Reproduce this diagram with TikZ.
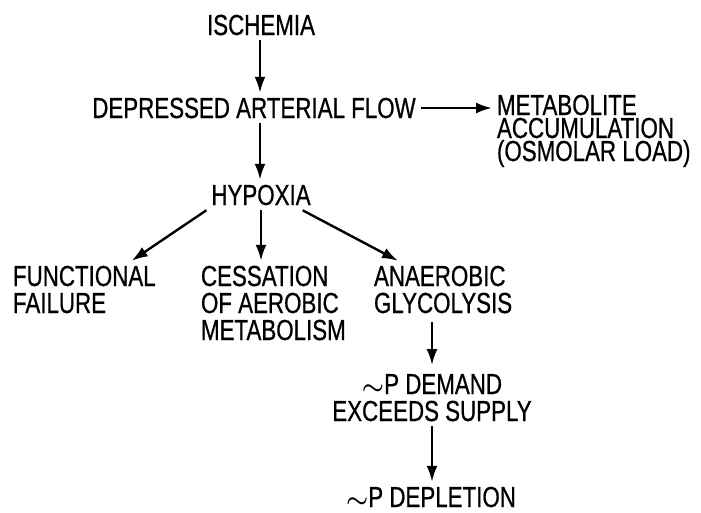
\documentclass[tikz,border=0pt]{standalone}
\usepackage{amssymb,amsmath}
\usepackage{fontspec}
\setmainfont[FakeStretch=0.77,FakeBold=0.6]{Liberation Sans}
\usepackage{tikz}
\usetikzlibrary{arrows.meta}

\begin{document}
\begin{tikzpicture}[x=1pt, y=-1pt,
        label/.style={inner sep=0pt, outer sep=5pt,
          font=\fontsize{29}{27}\selectfont},
        tight/.style={label, font=\fontsize{29}{23}\selectfont},
        every path/.style={line width=2.4pt},
        >={Latex[length=16pt,width=11pt]}]
        \useasboundingbox (0,0) rectangle (701,512);
        \node (isch) at (261,35) [label, anchor=base] {ISCHEMIA};
        \node (flow) at (254,118) [label, anchor=base] {DEPRESSED ARTERIAL FLOW};
        \node (metab) at (492,161) [tight, anchor=base west, align=left]
          {METABOLITE\\ACCUMULATION\\(OSMOLAR LOAD)};
        \node (hypox) at (261,205) [label, anchor=base] {HYPOXIA};
        \node (func) at (8,313) [label, anchor=base west, align=left]
          {FUNCTIONAL\\FAILURE};
        \node (cess) at (196,340) [label, anchor=base west, align=left]
          {CESSATION\\OF AEROBIC\\METABOLISM};
        \node (anaer) at (369,313) [label, anchor=base west, align=left]
          {ANAEROBIC\\GLYCOLYSIS};
        \node (demand) at (432,421) [label, anchor=base, align=center]
          {$\boldsymbol{\sim}$P DEMAND\\EXCEEDS SUPPLY};
        \node (deplet) at (431,507) [label, anchor=base] {$\boldsymbol{\sim}$P DEPLETION};
      \draw[->] ([xshift=-1pt]isch.south) -- ([xshift=-1pt]isch.south |- flow.north);
      \draw[->] (flow.east) -- (flow.east -| metab.west);
      \draw[->] ([xshift=6pt]flow.south) -- ([xshift=6pt]flow.south |- hypox.north);
      \draw[->] (hypox.south west) -- ([xshift=-29pt]func.north east);
      \draw[->] (hypox.south) -- (hypox.south |- cess.north);
      \draw[->] ([xshift=-13pt]hypox.south east) -- ([xshift=29pt]anaer.north west);
      \draw[->, shorten <=4pt, shorten >=4pt] (demand.north |- anaer.south) -- (demand.north);
      \draw[->] (demand.south) -- (deplet.north -| demand.south);
    \end{tikzpicture}
\end{document}
